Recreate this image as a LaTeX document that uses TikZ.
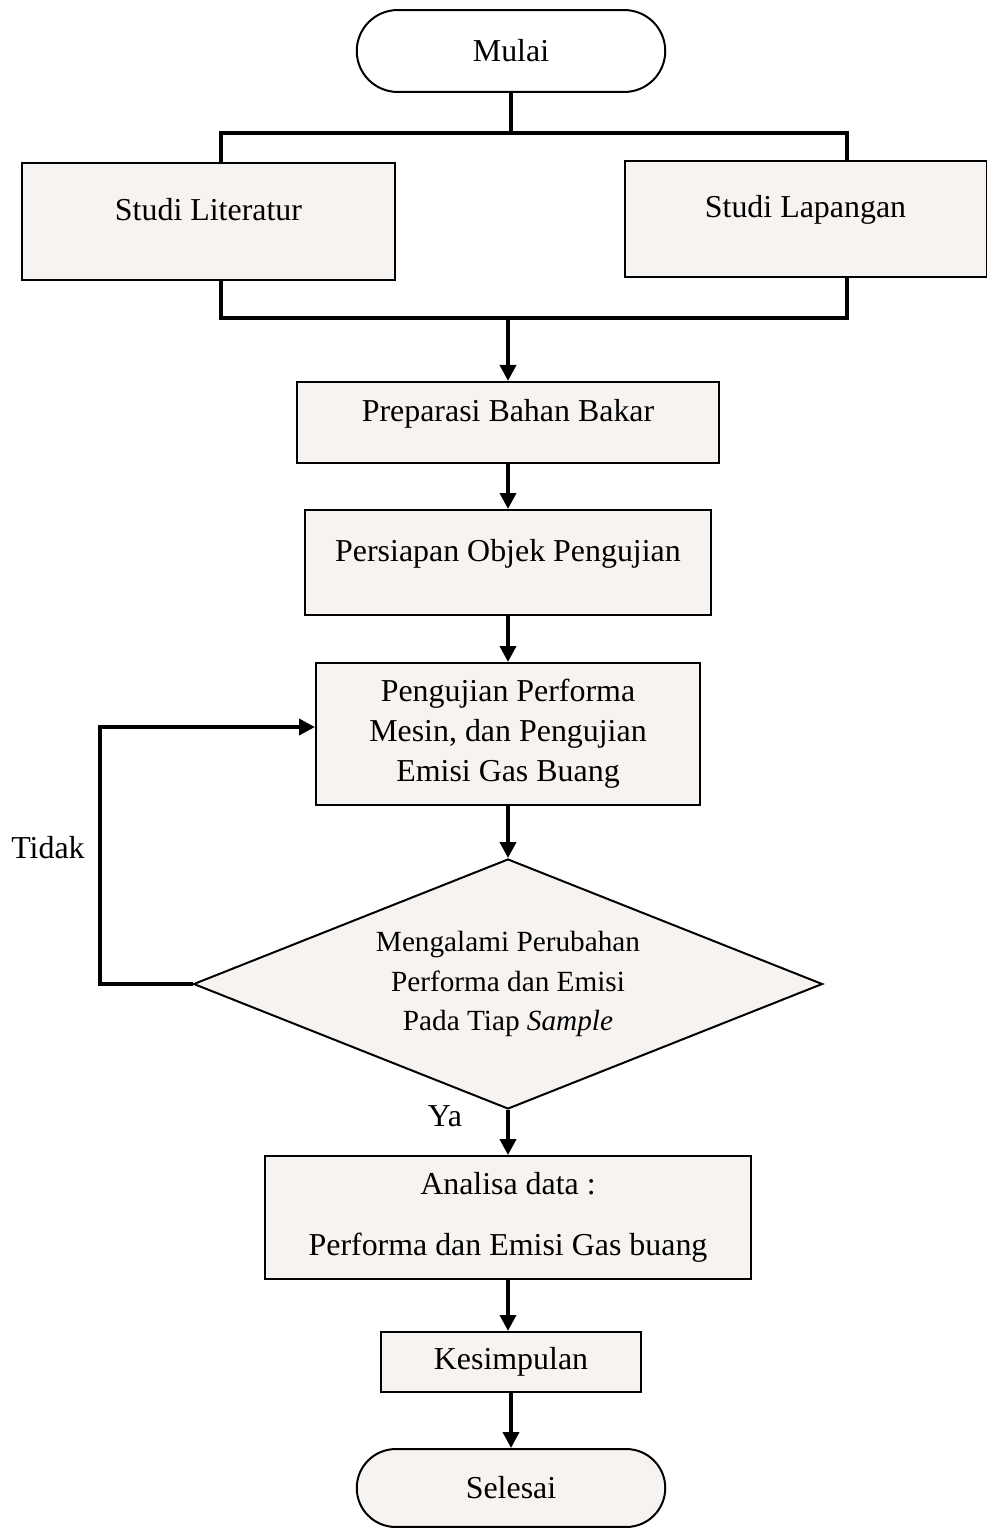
\documentclass[tikz,border=0pt]{standalone}
\usepackage{fontspec}
\setmainfont{Liberation Serif}
\usetikzlibrary{shapes.geometric,shapes.misc,arrows.meta}
\definecolor{boxfill}{RGB}{246,243,240}

\begin{document}
\begin{tikzpicture}[x=0.376pt,y=-0.376pt,
   font=\fontsize{12}{15}\selectfont,
   proc/.style={draw,line width=0.75pt,fill=boxfill,inner sep=2pt,align=center},
   upper/.style={text height=8.5pt,text depth=9.5pt},
   term/.style={draw,line width=0.75pt,rounded rectangle,inner sep=2pt},
   decide/.style={draw,line width=0.75pt,fill=boxfill,diamond,aspect=2.5,inner sep=0pt,
      align=center,font=\fontsize{11}{15}\selectfont},
   link/.style={line width=1.4pt,-{Triangle[length=6pt,width=6pt]}},
   bus/.style={line width=1.4pt}]
   \useasboundingbox (0,0) rectangle (987,1528);
   % flowchart column
   \node[term,minimum width=120pt,minimum height=30.8pt] (mulai) at (511,51) {Mulai};
   \node[proc,upper,minimum width=140.2pt,minimum height=44pt] (lit) at (208.5,221.5) {Studi Literatur};
   \node[proc,upper,minimum width=136.1pt,minimum height=43.6pt] (lap) at (805.5,219) {Studi Lapangan};
   \node[proc,upper,minimum width=159pt,minimum height=30.5pt] (prep) at (508,422.5) {Preparasi Bahan Bakar};
   \node[proc,upper,minimum width=153pt,minimum height=39.5pt] (siap) at (508,562.5) {Persiapan Objek Pengujian};
   \node[proc,minimum width=144.4pt,minimum height=53.4pt] (uji) at (508,734)
      {Pengujian Performa\\Mesin, dan Pengujian\\Emisi Gas Buang};
   \node[decide,minimum width=236.5pt,minimum height=94pt] (cek) at (508,984)
      {Mengalami Perubahan\\Performa dan Emisi\\Pada Tiap \textit{Sample}};
   \node[proc,minimum width=182.4pt,minimum height=46.2pt] (ana) at (508,1217.5)
      {Analisa data :\\[8pt]Performa dan Emisi Gas buang};
   \node[proc,minimum width=97.8pt,minimum height=22.6pt] (simp) at (511,1362) {Kesimpulan};
   \node[term,fill=boxfill,minimum width=120pt,minimum height=29.3pt] (selesai) at (511,1488) {Selesai};
   % labels
   \node (tidak) at (48,848) {Tidak};
   \node (ya) at (445,1116) {Ya};
   % bus lines
   \coordinate (litT) at (221,133);
   \coordinate (lapT) at (847,133);
   \coordinate (litB) at (221,318);
   \coordinate (lapB) at (847,318);
   \coordinate (back) at (100,727);
   \draw[bus] (mulai.south) -- (mulai.south |- litT);
   \draw[bus] (litT |- lit.north) -- (litT) -- (lapT) -- (lapT |- lap.north);
   \draw[bus] (litB |- lit.south) -- (litB) -- (lapB) -- (lapB |- lap.south);
   % arrows
   \draw[link] (prep.north |- litB) -- (prep.north);
   \draw[link] (prep) -- (siap);
   \draw[link] (siap) -- (uji);
   \draw[link] (uji) -- (cek);
   \draw[link] (cek) -- (ana);
   \draw[link] (ana.south) -- (ana.south |- simp.north);
   \draw[link] (simp) -- (selesai);
   \draw[link] (cek.west) -| (back) -- (back -| uji.west);
\end{tikzpicture}
\end{document}
